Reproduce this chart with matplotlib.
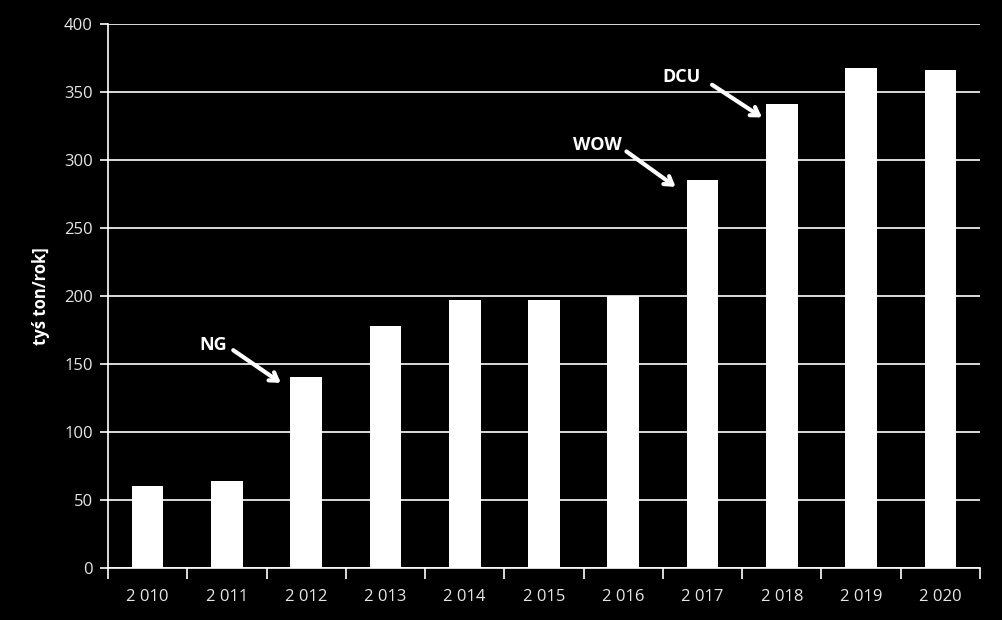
import matplotlib.pyplot as plt

lata = ["2 010", "2 011", "2 012", "2 013", "2 014", "2 015", "2 016", "2 017", "2 018", "2 019", "2 020"]
wartosci = [60, 64, 140, 178, 197, 197, 200, 285, 341, 367, 366]
adnotacje = [("NG", 2), ("WOW", 7), ("DCU", 8)]

# przesuniecia (tekst dx, dy, poczatek strzalki dx, dy, grot dx, dy) wzgledem slupka
uklad = {
    "NG": (-1.17, 24, -0.92, 20, -0.32, -4),
    "WOW": (-1.33, 26, -0.96, 21, -0.34, -5),
    "DCU": (-1.26, 20, -0.88, 14, -0.25, -10),
}

plt.rcParams['font.family'] = ['Open Sans', 'DejaVu Sans']

fig = plt.figure(figsize=(10.03, 6.2), dpi=100, facecolor="black")
ax = fig.add_axes([108 / 1003, 1 - 568 / 620, 872 / 1003, 544.5 / 620])
ax.set_facecolor("black")

x = list(range(len(lata)))
ax.bar(x, wartosci, width=0.4, color="white", zorder=3)

ax.set_xlim(-0.5, len(lata) - 0.5)
ax.set_ylim(0, 400)
ax.set_yticks(range(0, 401, 50))
ax.yaxis.grid(True, color="white", linewidth=1.2, zorder=1)

ax.set_xticks([i - 0.5 for i in range(len(lata) + 1)], minor=False)
ax.set_xticklabels([])
ax.set_xticks(x, minor=True)
ax.set_xticklabels(lata, minor=True)
ax.tick_params(axis="x", which="major", length=8, color="white", width=1.2)
ax.tick_params(axis="x", which="minor", length=0, pad=15, labelcolor="#e6e6e6", labelsize=12)
ax.tick_params(axis="y", length=6, color="white", width=1.2, labelcolor="#e6e6e6", labelsize=12, pad=5)

for s in ["top", "right"]:
    ax.spines[s].set_visible(False)
for s in ["left", "bottom"]:
    ax.spines[s].set_color("white")
    ax.spines[s].set_linewidth(1.2)

ax.set_ylabel("tyś ton/rok]", color="white", fontsize=12, fontweight="bold", labelpad=10)

for tekst, i in adnotacje:
    v = wartosci[i]
    tdx, tdy, adx, ady, gdx, gdy = uklad[tekst]
    ax.text(i + tdx, v + tdy, tekst, color="white", fontsize=13, fontweight="bold",
            ha="center", va="center", zorder=4)
    ax.annotate("", xy=(i + gdx, v + gdy), xytext=(i + adx, v + ady),
                arrowprops=dict(arrowstyle="->,head_length=0.55,head_width=0.35", color="white",
                                lw=3, shrinkA=0, shrinkB=0),
                zorder=4)

fig.savefig("out.png", dpi=100, facecolor="black")
